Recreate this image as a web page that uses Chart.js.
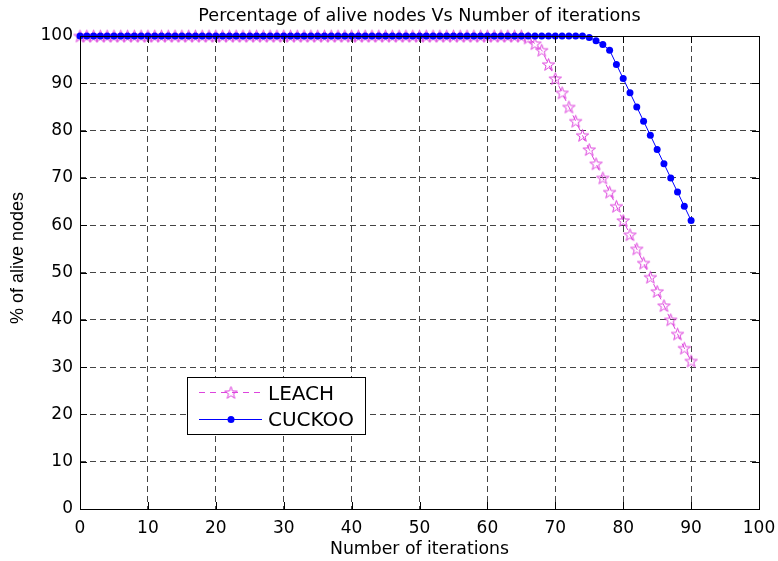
<!DOCTYPE html>
<html><head><meta charset="utf-8">
<script src="https://cdn.jsdelivr.net/npm/chart.js@4"></script>
<style>html,body{margin:0;padding:0;background:#fff}#wrap{width:778px;height:561px}</style>
</head><body><div id="wrap"><canvas id="c" width="778" height="561"></canvas></div>
<script>
const iterations = [0,1,2,3,4,5,6,7,8,9,10,11,12,13,14,15,16,17,18,19,20,21,22,23,24,25,26,27,28,29,30,31,32,33,34,35,36,37,38,39,40,41,42,43,44,45,46,47,48,49,50,51,52,53,54,55,56,57,58,59,60,61,62,63,64,65,66,67,68,69,70,71,72,73,74,75,76,77,78,79,80,81,82,83,84,85,86,87,88,89,90];
const leach = [100,100,100,100,100,100,100,100,100,100,100,100,100,100,100,100,100,100,100,100,100,100,100,100,100,100,100,100,100,100,100,100,100,100,100,100,100,100,100,100,100,100,100,100,100,100,100,100,100,100,100,100,100,100,100,100,100,100,100,100,100,100,100,100,100,100,99.6,98.4,97,94,91,88,85,82,79,76,73,70,67,64,61,58,55,52,49,46,43,40,37,34,31.3];
const cuckoo = [100,100,100,100,100,100,100,100,100,100,100,100,100,100,100,100,100,100,100,100,100,100,100,100,100,100,100,100,100,100,100,100,100,100,100,100,100,100,100,100,100,100,100,100,100,100,100,100,100,100,100,100,100,100,100,100,100,100,100,100,100,100,100,100,100,100,100,100,100,100,100,100,100,100,100,99.7,99,98.2,97,94,91,88,85,82,79,76,73,70,67,64,61];
const xTicks = [0,10,20,30,40,50,60,70,80,90,100];
const yTicks = [0,10,20,30,40,50,60,70,80,90,100];
const seriesNames = ['LEACH','CUCKOO'];
const chartTitle = 'Percentage of alive nodes Vs Number of iterations';
const xTitle = 'Number of iterations';
const yTitle = '% of alive nodes';

const FONT = '"DejaVu Sans", "Liberation Sans", Arial, sans-serif';
const FONT_Y = '"Liberation Sans", Arial, Helvetica, sans-serif';
const MAG = '#dd44dd';
const BLUE = '#0000ff';

function makeStar(color, r) {
  const s = Math.ceil(r * 2 + 4);
  const c = document.createElement('canvas'); c.width = s; c.height = s;
  const g = c.getContext('2d');
  g.strokeStyle = color; g.lineWidth = 1;
  g.beginPath();
  for (let i = 0; i < 10; i++) {
    const ang = -Math.PI / 2 + i * Math.PI / 5;
    const rad = i % 2 === 0 ? r : r * 0.4;
    const x = s / 2 + rad * Math.cos(ang), y = s / 2 + 0.6 + rad * Math.sin(ang);
    i ? g.lineTo(x, y) : g.moveTo(x, y);
  }
  g.closePath(); g.stroke();
  return c;
}
const starImg = makeStar(MAG, 6.5);

const boxPlugin = {
  id: 'box',
  afterDatasetsDraw(chart) {
    const {ctx, chartArea: a, scales} = chart;
    ctx.save();
    ctx.strokeStyle = '#000'; ctx.lineWidth = 1; ctx.setLineDash([]);
    ctx.strokeRect(a.left + 0.5, a.top + 0.5, a.right - a.left, a.bottom - a.top);
    ctx.beginPath();
    xTicks.forEach(v => {
      const x = Math.round(scales.x.getPixelForValue(v)) + 0.5;
      ctx.moveTo(x, a.bottom); ctx.lineTo(x, a.bottom - 7);
      ctx.moveTo(x, a.top); ctx.lineTo(x, a.top + 7);
    });
    yTicks.forEach(v => {
      const y = Math.round(scales.y.getPixelForValue(v)) + 0.5;
      ctx.moveTo(a.left, y); ctx.lineTo(a.left + 7, y);
      ctx.moveTo(a.right, y); ctx.lineTo(a.right - 7, y);
    });
    ctx.stroke();
    ctx.restore();
  },
  afterDraw(chart) {
    const ctx = chart.ctx;
    const a = chart.chartArea;
    ctx.save();
    // chart title, centred over the plot area
    ctx.fillStyle = '#000'; ctx.font = '17.6px ' + FONT;
    ctx.textAlign = 'center'; ctx.textBaseline = 'alphabetic';
    ctx.fillText(chartTitle, (a.left + a.right) / 2, 20.5);
    // y axis title
    ctx.translate(23, 258);
    ctx.rotate(-Math.PI / 2);
    ctx.font = '18px ' + FONT_Y;
    ctx.fillText(yTitle, 0, 0);
    ctx.restore();

    // legend
    const L = 187, T = 377, W = 178, H = 57;
    ctx.save();
    ctx.fillStyle = '#fff';
    ctx.fillRect(L, T, W, H);
    ctx.strokeStyle = '#000'; ctx.lineWidth = 1;
    ctx.strokeRect(L + 0.5, T + 0.5, W, H);
    const ds = chart.data.datasets;
    let y = T + 15.5;
    ctx.strokeStyle = ds[0].borderColor; ctx.setLineDash([6, 5]);
    ctx.beginPath(); ctx.moveTo(L + 12, y); ctx.lineTo(L + 75, y); ctx.stroke();
    ctx.setLineDash([]);
    ctx.drawImage(starImg, L + 44 - starImg.width / 2, y - starImg.height / 2);
    ctx.fillStyle = '#000'; ctx.font = '20px ' + FONT; ctx.textBaseline = 'alphabetic';
    ctx.fillText(ds[0].label, L + 81, 399.5);
    y = T + 42.5;
    ctx.strokeStyle = ds[1].borderColor;
    ctx.beginPath(); ctx.moveTo(L + 12, y); ctx.lineTo(L + 75, y); ctx.stroke();
    ctx.fillStyle = ds[1].borderColor;
    ctx.beginPath(); ctx.arc(L + 44, y, 3.5, 0, Math.PI * 2); ctx.fill();
    ctx.fillStyle = '#000';
    ctx.fillText(ds[1].label, L + 81, 426.3);
    ctx.restore();
  }
};

new Chart(document.getElementById('c'), {
  type: 'line',
  data: {
    datasets: [
      {
        label: seriesNames[0],
        data: iterations.map((x, i) => ({x, y: leach[i]})),
        borderColor: MAG, borderWidth: 1, borderDash: [6, 5],
        pointStyle: starImg, pointRadius: 6.5, pointHoverRadius: 6.5,
        backgroundColor: MAG, tension: 0, clip: false, order: 1
      },
      {
        label: seriesNames[1],
        data: iterations.map((x, i) => ({x, y: cuckoo[i]})),
        borderColor: BLUE, borderWidth: 1,
        pointStyle: 'circle', pointRadius: 3.5, pointBorderWidth: 0,
        pointBackgroundColor: BLUE, backgroundColor: BLUE, tension: 0, clip: false, order: 0
      }
    ]
  },
  options: {
    responsive: false, animation: false, devicePixelRatio: 1,
    layout: { padding: { right: 19, left: 0, top: 36, bottom: 0 } },
    plugins: {
      legend: { display: false },
      tooltip: { enabled: false },
      title: { display: false }
    },
    scales: {
      x: {
        type: 'linear', min: 0, max: 100,
        afterBuildTicks: s => { s.ticks = xTicks.map(v => ({value: v})); },
        afterFit: s => { s.height = 52; s.paddingLeft = 0; s.paddingRight = 0; },
        ticks: { color: '#000', font: { family: FONT, size: 17 }, padding: 9, maxRotation: 0, autoSkip: false },
        grid: { color: '#444', lineWidth: 1, drawTicks: false, borderDash: [6, 4] },
        border: { display: false, dash: [6, 4] },
        title: { display: true, text: xTitle, color: '#000', font: { family: FONT, size: 17.3 }, padding: { top: 1, bottom: 1 } }
      },
      y: {
        type: 'linear', min: 0, max: 100,
        afterBuildTicks: s => { s.ticks = yTicks.map(v => ({value: v})); },
        afterFit: s => { s.width = 80; s.paddingTop = 0; s.paddingBottom = 0; },
        ticks: { color: '#000', font: { family: FONT, size: 17 }, padding: 7 },
        grid: { color: '#444', lineWidth: 1, drawTicks: false, borderDash: [6, 4] },
        border: { display: false, dash: [6, 4] },
        title: { display: false }
      }
    }
  },
  plugins: [boxPlugin]
});
</script>
</body></html>
